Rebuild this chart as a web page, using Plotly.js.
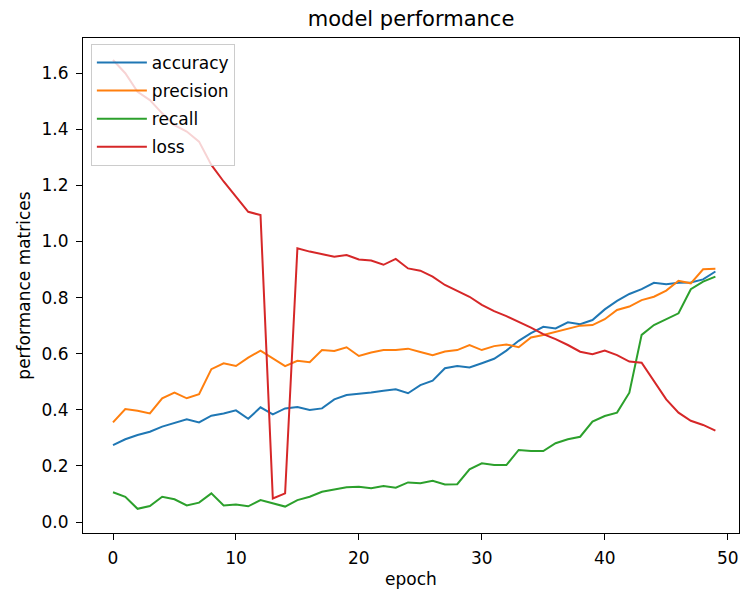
<!DOCTYPE html>
<html>
<head>
<meta charset="utf-8">
<script src="https://cdn.plot.ly/plotly-3.0.1.min.js"></script>
<style>html,body{margin:0;padding:0;overflow:hidden;background:#fff}</style>
</head>
<body>
<div id="chart" style="width:740px;height:589px"></div>
<script>
const epochs = Array.from({length: 50}, (_, i) => i);

const accuracy = [0.274, 0.295, 0.310, 0.322, 0.340, 0.354, 0.366, 0.355, 0.379, 0.387,
  0.398, 0.368, 0.409, 0.384, 0.405, 0.410, 0.399, 0.405, 0.437, 0.453,
  0.457, 0.462, 0.468, 0.473, 0.459, 0.488, 0.504, 0.548, 0.556, 0.551,
  0.566, 0.582, 0.611, 0.646, 0.673, 0.696, 0.690, 0.712, 0.705, 0.720,
  0.758, 0.788, 0.813, 0.830, 0.853, 0.848, 0.853, 0.854, 0.865, 0.893];

const precision = [0.355, 0.403, 0.397, 0.387, 0.441, 0.461, 0.441, 0.456, 0.545, 0.566,
  0.556, 0.586, 0.611, 0.583, 0.556, 0.575, 0.570, 0.613, 0.610, 0.623,
  0.592, 0.604, 0.613, 0.613, 0.618, 0.606, 0.595, 0.608, 0.613, 0.631,
  0.613, 0.627, 0.633, 0.623, 0.658, 0.667, 0.678, 0.689, 0.700, 0.702,
  0.723, 0.756, 0.768, 0.791, 0.803, 0.825, 0.860, 0.851, 0.901, 0.903];

const recall = [0.106, 0.090, 0.047, 0.057, 0.090, 0.081, 0.059, 0.069, 0.102, 0.059,
  0.062, 0.056, 0.078, 0.067, 0.055, 0.078, 0.090, 0.108, 0.116, 0.124,
  0.126, 0.120, 0.128, 0.122, 0.141, 0.138, 0.147, 0.134, 0.135, 0.188,
  0.209, 0.203, 0.203, 0.257, 0.253, 0.253, 0.281, 0.295, 0.304, 0.358,
  0.378, 0.390, 0.461, 0.667, 0.702, 0.723, 0.744, 0.830, 0.857, 0.875];

const loss = [1.647, 1.600, 1.534, 1.504, 1.457, 1.415, 1.392, 1.356, 1.273, 1.214,
  1.160, 1.106, 1.094, 0.084, 0.102, 0.976, 0.964, 0.955, 0.946, 0.952,
  0.936, 0.932, 0.917, 0.938, 0.904, 0.896, 0.875, 0.845, 0.824, 0.803,
  0.774, 0.752, 0.734, 0.714, 0.693, 0.670, 0.652, 0.631, 0.607, 0.598,
  0.611, 0.595, 0.572, 0.568, 0.500, 0.437, 0.390, 0.361, 0.346, 0.326];

const seriesNames = ['accuracy', 'precision', 'recall', 'loss'];
const seriesValues = [accuracy, precision, recall, loss];
const seriesColors = ['#1f77b4', '#ff7f0e', '#2ca02c', '#d62728'];

const xTicks = [0, 10, 20, 30, 40, 50];
const yTicks = [0.0, 0.2, 0.4, 0.6, 0.8, 1.0, 1.2, 1.4, 1.6];

const traces = seriesNames.map((name, i) => ({
  x: epochs,
  y: seriesValues[i],
  name: name,
  legendgroup: name,
  type: 'scatter',
  mode: 'lines',
  line: {color: seriesColors[i], width: 2}
}));

const FONT = 'DejaVu Sans';
const axisCommon = {
  showline: true, linecolor: '#000', linewidth: 1, mirror: true,
  showgrid: false, zeroline: false,
  ticks: 'outside', ticklen: 6, tickwidth: 1, tickcolor: '#000',
  ticklabelstandoff: 4,
  tickfont: {family: FONT, size: 17, color: '#000'}
};

const layout = {
  width: 740, height: 589,
  paper_bgcolor: '#fff', plot_bgcolor: '#fff',
  margin: {l: 83, r: 1, t: 38, b: 56},
  font: {family: FONT, color: '#000'},
  title: {text: 'model performance', font: {family: FONT, size: 21, color: '#000'},
          x: 0.5555, xanchor: 'center', y: 0.969, yanchor: 'middle', yref: 'container'},
  xaxis: Object.assign({}, axisCommon, {
    range: [-2.44, 50.92], tickvals: xTicks, ticktext: xTicks.map(String),
    title: {text: 'epoch', font: {family: FONT, size: 17, color: '#000'}, standoff: 6}
  }),
  yaxis: Object.assign({}, axisCommon, {
    range: [-0.0392, 1.7255], tickvals: yTicks, ticktext: yTicks.map(v => v.toFixed(1)),
    title: {text: 'performance matrices', font: {family: FONT, size: 17, color: '#000'}, standoff: 6}
  }),
  showlegend: true,
  legend: {
    x: 0.012, y: 0.988, xanchor: 'left', yanchor: 'top',
    bgcolor: 'rgba(255,255,255,0.8)', bordercolor: '#cccccc', borderwidth: 1,
    font: {family: FONT, size: 17, color: '#000'},
    tracegroupgap: 3, itemwidth: 50
  }
};

Plotly.newPlot('chart', traces, layout, {displayModeBar: false, staticPlot: true});
</script>
</body>
</html>
